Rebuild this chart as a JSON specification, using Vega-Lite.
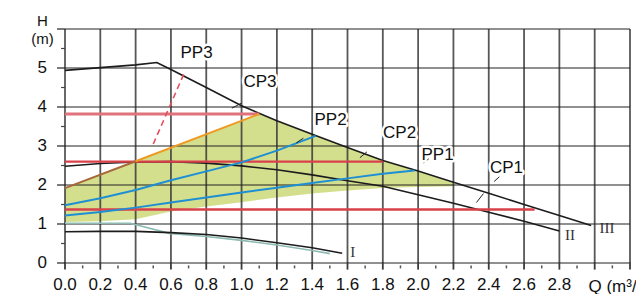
{
  "$schema": "https://vega.github.io/schema/vega-lite/v6.json",
  "width": 565,
  "height": 234,
  "autosize": "none",
  "padding": {"left": 65, "top": 29, "right": 6, "bottom": 31},
  "background": "white",
  "config": {
    "view": {"stroke": null},
    "font": "Liberation Sans",
    "axis": {"grid": false, "labels": false, "ticks": false, "domain": false, "titleFontSize": 17, "titleFontWeight": "normal", "titleColor": "#111"}
  },
  "datasets": {
    "gx": [
      {"q": 0}, {"q": 0.2}, {"q": 0.4}, {"q": 0.6}, {"q": 0.8}, {"q": 1.0}, {"q": 1.2}, {"q": 1.4}, {"q": 1.6},
      {"q": 1.8}, {"q": 2.0}, {"q": 2.2}, {"q": 2.4}, {"q": 2.6}, {"q": 2.8}, {"q": 3.0}, {"q": 3.2}
    ],
    "gxm": [
      {"q": 0.1}, {"q": 0.3}, {"q": 0.5}, {"q": 0.7}, {"q": 0.9}, {"q": 1.1}, {"q": 1.3}, {"q": 1.5},
      {"q": 1.7}, {"q": 1.9}, {"q": 2.1}, {"q": 2.3}, {"q": 2.5}, {"q": 2.7}, {"q": 2.9}, {"q": 3.1}
    ],
    "gy": [{"h": 0}, {"h": 1}, {"h": 2}, {"h": 3}, {"h": 4}, {"h": 5}, {"h": 6}],
    "gym": [{"h": 0.5}, {"h": 1.5}, {"h": 2.5}, {"h": 3.5}, {"h": 4.5}, {"h": 5.5}],
    "curves": [
      {"s": "III", "q": 0, "h": 4.94}, {"s": "III", "q": 0.2, "h": 5.01}, {"s": "III", "q": 0.4, "h": 5.08}, {"s": "III", "q": 0.52, "h": 5.14},
      {"s": "III", "q": 0.6, "h": 4.96}, {"s": "III", "q": 0.8, "h": 4.5}, {"s": "III", "q": 1.0, "h": 4.03}, {"s": "III", "q": 1.2, "h": 3.65},
      {"s": "III", "q": 1.4, "h": 3.3}, {"s": "III", "q": 1.6, "h": 2.96}, {"s": "III", "q": 1.8, "h": 2.63}, {"s": "III", "q": 2.0, "h": 2.36},
      {"s": "III", "q": 2.2, "h": 2.07}, {"s": "III", "q": 2.4, "h": 1.79}, {"s": "III", "q": 2.6, "h": 1.5}, {"s": "III", "q": 2.8, "h": 1.22},
      {"s": "III", "q": 2.98, "h": 0.96},
      {"s": "II", "q": 0, "h": 2.48}, {"s": "II", "q": 0.2, "h": 2.55}, {"s": "II", "q": 0.4, "h": 2.59}, {"s": "II", "q": 0.6, "h": 2.6},
      {"s": "II", "q": 0.8, "h": 2.56}, {"s": "II", "q": 1.0, "h": 2.49}, {"s": "II", "q": 1.2, "h": 2.39}, {"s": "II", "q": 1.4, "h": 2.26},
      {"s": "II", "q": 1.6, "h": 2.11}, {"s": "II", "q": 1.8, "h": 1.97}, {"s": "II", "q": 2.0, "h": 1.75}, {"s": "II", "q": 2.2, "h": 1.53},
      {"s": "II", "q": 2.4, "h": 1.3}, {"s": "II", "q": 2.6, "h": 1.07}, {"s": "II", "q": 2.8, "h": 0.82},
      {"s": "I", "q": 0, "h": 0.8}, {"s": "I", "q": 0.2, "h": 0.81}, {"s": "I", "q": 0.4, "h": 0.81}, {"s": "I", "q": 0.6, "h": 0.78},
      {"s": "I", "q": 0.8, "h": 0.73}, {"s": "I", "q": 1.0, "h": 0.64}, {"s": "I", "q": 1.2, "h": 0.52}, {"s": "I", "q": 1.4, "h": 0.39},
      {"s": "I", "q": 1.57, "h": 0.25},
      {"s": "Imin", "q": 0, "h": 1.02}, {"s": "Imin", "q": 0.37, "h": 1.02}, {"s": "Imin", "q": 0.59, "h": 0.76}, {"s": "Imin", "q": 0.8, "h": 0.68},
      {"s": "Imin", "q": 1.0, "h": 0.58}, {"s": "Imin", "q": 1.2, "h": 0.46}, {"s": "Imin", "q": 1.4, "h": 0.32}, {"s": "Imin", "q": 1.5, "h": 0.24},
      {"s": "CP1", "q": 0, "h": 1.37}, {"s": "CP1", "q": 2.66, "h": 1.37},
      {"s": "CP2", "q": 0, "h": 2.6}, {"s": "CP2", "q": 1.8, "h": 2.6},
      {"s": "CP3", "q": 0, "h": 3.82}, {"s": "CP3", "q": 1.1, "h": 3.82},
      {"s": "PP1", "q": 0, "h": 1.22}, {"s": "PP1", "q": 0.2, "h": 1.31}, {"s": "PP1", "q": 0.4, "h": 1.42}, {"s": "PP1", "q": 0.6, "h": 1.55},
      {"s": "PP1", "q": 0.8, "h": 1.68}, {"s": "PP1", "q": 1.0, "h": 1.81}, {"s": "PP1", "q": 1.2, "h": 1.93}, {"s": "PP1", "q": 1.4, "h": 2.05},
      {"s": "PP1", "q": 1.6, "h": 2.17}, {"s": "PP1", "q": 1.8, "h": 2.29}, {"s": "PP1", "q": 1.98, "h": 2.37},
      {"s": "PP2", "q": 0, "h": 1.48}, {"s": "PP2", "q": 0.2, "h": 1.66}, {"s": "PP2", "q": 0.4, "h": 1.87}, {"s": "PP2", "q": 0.6, "h": 2.12},
      {"s": "PP2", "q": 0.8, "h": 2.35}, {"s": "PP2", "q": 1.0, "h": 2.58}, {"s": "PP2", "q": 1.2, "h": 2.88}, {"s": "PP2", "q": 1.42, "h": 3.26},
      {"s": "PP3a", "q": 0, "h": 1.92}, {"s": "PP3a", "q": 0.4, "h": 2.61},
      {"s": "PP3b", "q": 0.4, "h": 2.61}, {"s": "PP3b", "q": 1.1, "h": 3.82},
      {"s": "PP3d", "q": 0.5, "h": 3.05}, {"s": "PP3d", "q": 0.68, "h": 4.92}
    ],
    "zone": [
      {"q": 0, "h": 1.92, "bot": 1.05}, {"q": 0.2, "h": 2.27, "bot": 1.07}, {"q": 0.4, "h": 2.61, "bot": 1.12},
      {"q": 0.6, "h": 2.96, "bot": 1.32}, {"q": 0.8, "h": 3.3, "bot": 1.45}, {"q": 1.0, "h": 3.65, "bot": 1.56},
      {"q": 1.1, "h": 3.82, "bot": 1.62}, {"q": 1.2, "h": 3.65, "bot": 1.68}, {"q": 1.4, "h": 3.3, "bot": 1.78},
      {"q": 1.6, "h": 2.96, "bot": 1.86}, {"q": 1.8, "h": 2.63, "bot": 1.92}, {"q": 2.0, "h": 2.36, "bot": 1.95},
      {"q": 2.2, "h": 2.05, "bot": 1.97}
    ],
    "leaders": [
      {"q": 0.945, "h": 3.97, "q2": 1.0, "h2": 4.1},
      {"q": 1.31, "h": 3.08, "q2": 1.35, "h2": 3.2},
      {"q": 1.67, "h": 2.7, "q2": 1.71, "h2": 2.85},
      {"q": 2.03, "h": 2.57, "q2": 2.06, "h2": 2.67},
      {"q": 2.43, "h": 2.09, "q2": 2.46, "h2": 2.21},
      {"q": 2.33, "h": 1.55, "q2": 2.37, "h2": 1.78}
    ],
    "labels": [
      {"t": "PP3", "q": 0.745, "h": 5.38},
      {"t": "CP3", "q": 1.104, "h": 4.63},
      {"t": "PP2", "q": 1.504, "h": 3.67},
      {"t": "CP2", "q": 1.895, "h": 3.33},
      {"t": "PP1", "q": 2.11, "h": 2.78},
      {"t": "CP1", "q": 2.5, "h": 2.44}
    ],
    "roman": [
      {"t": "I", "q": 1.63, "h": 0.28},
      {"t": "II", "q": 2.86, "h": 0.72},
      {"t": "III", "q": 3.07, "h": 0.9}
    ]
  },
  "layer": [
    {
      "data": {"name": "zone"},
      "mark": {"type": "area", "color": "#c6d468", "opacity": 0.75, "interpolate": "linear"},
      "encoding": {
        "x": {
          "field": "q", "type": "quantitative",
          "scale": {"domain": [0, 3.2], "nice": false, "zero": false},
          "axis": {"title": "Q (m³/h)", "titleX": 523, "titleY": 28, "titleAlign": "left", "titleBaseline": "alphabetic"}
        },
        "y": {
          "field": "h", "type": "quantitative",
          "scale": {"domain": [0, 6], "nice": false, "zero": false},
          "axis": {
            "title": ["H", "(m)"], "titleAngle": 0, "titleX": -23, "titleY": -4,
            "titleAlign": "center", "titleBaseline": "alphabetic", "titleFontSize": 15, "titleLineHeight": 18
          }
        },
        "y2": {"field": "bot"}
      }
    },
    {
      "data": {"name": "gx"},
      "mark": {"type": "tick", "color": "#3a3a3a", "orient": "vertical", "size": 234, "thickness": 1.8, "opacity": 0.85},
      "encoding": {"x": {"field": "q", "type": "quantitative"}}
    },
    {
      "data": {"name": "gy"},
      "mark": {"type": "tick", "color": "#222", "orient": "horizontal", "size": 565, "thickness": 1.2, "opacity": 1},
      "encoding": {"y": {"field": "h", "type": "quantitative"}}
    },
    {
      "data": {"name": "gx"},
      "mark": {"type": "tick", "color": "#3a3a3a", "orient": "vertical", "size": 7, "thickness": 1.8, "opacity": 1},
      "encoding": {"x": {"field": "q", "type": "quantitative"}, "y": {"datum": -0.08}}
    },
    {
      "data": {"name": "gxm"},
      "mark": {"type": "tick", "color": "#555", "orient": "vertical", "size": 3, "thickness": 1.5, "opacity": 1},
      "encoding": {"x": {"field": "q", "type": "quantitative"}, "y": {"datum": -0.1}}
    },
    {
      "data": {"name": "gy"},
      "mark": {"type": "tick", "color": "#222", "orient": "horizontal", "size": 8, "thickness": 1.2, "opacity": 1},
      "encoding": {"y": {"field": "h", "type": "quantitative"}, "x": {"datum": -0.0227}}
    },
    {
      "data": {"name": "gym"},
      "mark": {"type": "tick", "color": "#444", "orient": "horizontal", "size": 4, "thickness": 1.2, "opacity": 1},
      "encoding": {"y": {"field": "h", "type": "quantitative"}, "x": {"datum": -0.011}}
    },
    {
      "data": {"name": "curves"},
      "transform": [{"filter": {"field": "s", "equal": "Imin"}}],
      "mark": {"type": "line", "color": "#8dbab3", "strokeWidth": 1.6},
      "encoding": {"x": {"field": "q", "type": "quantitative"}, "y": {"field": "h", "type": "quantitative"}}
    },
    {
      "data": {"name": "curves"},
      "transform": [{"filter": {"field": "s", "oneOf": ["I", "II", "III"]}}],
      "mark": {"type": "line", "color": "#1c1c1c", "strokeWidth": 1.6},
      "encoding": {"x": {"field": "q", "type": "quantitative"}, "y": {"field": "h", "type": "quantitative"}, "detail": {"field": "s"}}
    },
    {
      "data": {"name": "curves"},
      "transform": [{"filter": {"field": "s", "equal": "CP3"}}],
      "mark": {"type": "line", "color": "#e0727c", "strokeWidth": 2.8},
      "encoding": {"x": {"field": "q", "type": "quantitative"}, "y": {"field": "h", "type": "quantitative"}}
    },
    {
      "data": {"name": "curves"},
      "transform": [{"filter": {"field": "s", "oneOf": ["CP1", "CP2"]}}],
      "mark": {"type": "line", "color": "#d9404a", "strokeWidth": 2.4},
      "encoding": {"x": {"field": "q", "type": "quantitative"}, "y": {"field": "h", "type": "quantitative"}, "detail": {"field": "s"}}
    },
    {
      "data": {"name": "curves"},
      "transform": [{"filter": {"field": "s", "oneOf": ["PP1", "PP2"]}}],
      "mark": {"type": "line", "color": "#1f8fd4", "strokeWidth": 2},
      "encoding": {"x": {"field": "q", "type": "quantitative"}, "y": {"field": "h", "type": "quantitative"}, "detail": {"field": "s"}}
    },
    {
      "data": {"name": "curves"},
      "transform": [{"filter": {"field": "s", "equal": "PP3a"}}],
      "mark": {"type": "line", "color": "#a8683a", "strokeWidth": 2},
      "encoding": {"x": {"field": "q", "type": "quantitative"}, "y": {"field": "h", "type": "quantitative"}}
    },
    {
      "data": {"name": "curves"},
      "transform": [{"filter": {"field": "s", "equal": "PP3b"}}],
      "mark": {"type": "line", "color": "#ee9a22", "strokeWidth": 2},
      "encoding": {"x": {"field": "q", "type": "quantitative"}, "y": {"field": "h", "type": "quantitative"}}
    },
    {
      "data": {"name": "curves"},
      "transform": [{"filter": {"field": "s", "equal": "PP3d"}}],
      "mark": {"type": "line", "color": "#e0505a", "strokeWidth": 1.6, "strokeDash": [6, 4]},
      "encoding": {"x": {"field": "q", "type": "quantitative"}, "y": {"field": "h", "type": "quantitative"}}
    },
    {
      "data": {"name": "leaders"},
      "mark": {"type": "rule", "color": "#222", "strokeWidth": 1},
      "encoding": {
        "x": {"field": "q", "type": "quantitative"}, "y": {"field": "h", "type": "quantitative"},
        "x2": {"field": "q2"}, "y2": {"field": "h2"}
      }
    },
    {
      "data": {"name": "labels"},
      "mark": {"type": "text", "fontSize": 17, "stroke": "white", "strokeWidth": 5, "fill": "white", "strokeJoin": "round"},
      "encoding": {"x": {"field": "q", "type": "quantitative"}, "y": {"field": "h", "type": "quantitative"}, "text": {"field": "t"}}
    },
    {
      "data": {"name": "labels"},
      "mark": {"type": "text", "fontSize": 17, "color": "#111"},
      "encoding": {"x": {"field": "q", "type": "quantitative"}, "y": {"field": "h", "type": "quantitative"}, "text": {"field": "t"}}
    },
    {
      "data": {"name": "roman"},
      "mark": {"type": "text", "fontSize": 15, "font": "Liberation Serif", "color": "#333"},
      "encoding": {"x": {"field": "q", "type": "quantitative"}, "y": {"field": "h", "type": "quantitative"}, "text": {"field": "t"}}
    },
    {
      "data": {"name": "gx"},
      "transform": [{"filter": "datum.q < 2.9"}],
      "mark": {"type": "text", "fontSize": 17, "color": "#111", "baseline": "alphabetic", "dy": 27},
      "encoding": {"x": {"field": "q", "type": "quantitative"}, "y": {"datum": 0}, "text": {"field": "q", "type": "quantitative", "format": ".1f"}}
    },
    {
      "data": {"name": "gy"},
      "transform": [{"filter": "datum.h < 5.5"}],
      "mark": {"type": "text", "fontSize": 17, "color": "#111", "align": "right", "baseline": "middle", "dx": -18},
      "encoding": {"y": {"field": "h", "type": "quantitative"}, "x": {"datum": 0}, "text": {"field": "h", "type": "quantitative"}}
    }
  ]
}
